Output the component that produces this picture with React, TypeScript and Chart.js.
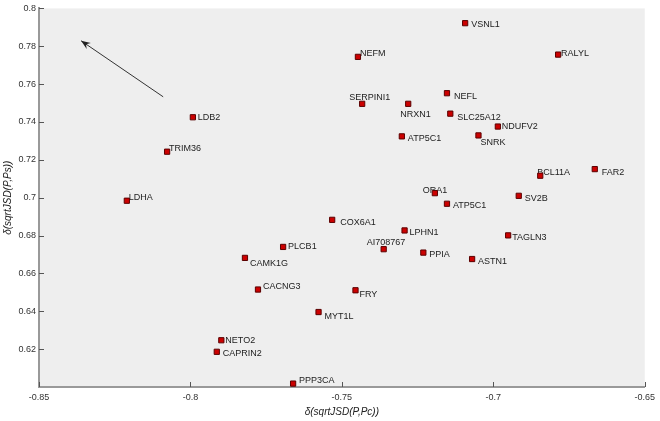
import React, { useEffect, useRef } from 'react';
import { Chart, registerables } from 'chart.js';

Chart.register(...registerables);

const genes = [
  'VSNL1', 'NEFM', 'RALYL', 'NEFL', 'SERPINI1', 'NRXN1', 'SLC25A12', 'NDUFV2',
  'ATP5C1', 'SNRK', 'BCL11A', 'FAR2', 'ORA1', 'SV2B', 'ATP5C1', 'LDB2',
  'TRIM36', 'LDHA', 'COX6A1', 'PLCB1', 'CAMK1G', 'CACNG3', 'MYT1L', 'NETO2',
  'CAPRIN2', 'PPP3CA', 'LPHN1', 'AI708767', 'PPIA', 'ASTN1', 'FRY', 'TAGLN3',
];

const xValues = [
  -0.7093, -0.7447, -0.6786, -0.7153, -0.7433, -0.7281, -0.7142, -0.6985,
  -0.7302, -0.7049, -0.6845, -0.6665, -0.7193, -0.6916, -0.7153, -0.7992,
  -0.8077, -0.821, -0.7532, -0.7694, -0.782, -0.7777, -0.7577, -0.7898,
  -0.7913, -0.7661, -0.7293, -0.7362, -0.7231, -0.707, -0.7455, -0.6951,
];

const yValues = [
  0.7922, 0.7744, 0.7756, 0.7552, 0.7496, 0.7496, 0.7444, 0.7376,
  0.7324, 0.7329, 0.7116, 0.7151, 0.7024, 0.701, 0.6968, 0.7425,
  0.7243, 0.6984, 0.6883, 0.674, 0.6682, 0.6515, 0.6396, 0.6247,
  0.6186, 0.6018, 0.6827, 0.6728, 0.671, 0.6676, 0.6511, 0.6801,
];

const xTicks = [-0.85, -0.8, -0.75, -0.7, -0.65];
const yTicks = [0.62, 0.64, 0.66, 0.68, 0.7, 0.72, 0.74, 0.76, 0.78, 0.8];

const xTitle = 'δ(sqrtJSD(P,Pc))';
const yTitle = 'δ(sqrtJSD(P,Ps))';

const arrowFrom = [-0.809, 0.7533];
const arrowTo = [-0.8361, 0.7829];

// label placement (pixel offsets from marker centre to text start / text middle)
const labelOffsets: [number, number][] = [
  [6, 1], [2, -3], [3, -1], [7, 3], [-13, -6], [-8, 11], [7, 4], [4, 0],
  [6, 2], [2, 7], [-3, -3], [7, 3], [-12, -3], [6, 3], [6, 2], [5, 0],
  [2, -3], [2, -3], [8, 3], [5, 0], [5, 6], [5, -3], [6, 4], [4, 0],
  [6, 2], [6, -3], [5, 2], [-17, -7], [6, 2], [6, 2], [4, 4], [4, 2],
];

const FONT = '"Liberation Sans", Arial, sans-serif';

const decor = {
  id: 'decor',
  beforeDraw(chart: any) {
    const { ctx, chartArea: a } = chart;
    ctx.save();
    ctx.fillStyle = '#eeeeee';
    ctx.fillRect(a.left, a.top, a.right - a.left, a.bottom - a.top);
    ctx.restore();
  },
  beforeDatasetsDraw(chart: any) {
    const { ctx } = chart;
    const xs = chart.scales.x;
    const ys = chart.scales.y;
    ctx.save();
    ctx.font = '9px ' + FONT;
    ctx.fillStyle = '#222';
    ctx.textAlign = 'left';
    ctx.textBaseline = 'middle';
    genes.forEach((g, i) => {
      const px = xs.getPixelForValue(xValues[i]);
      const py = ys.getPixelForValue(yValues[i]);
      const [dx, dy] = labelOffsets[i];
      ctx.fillText(g, px + dx, py + dy);
    });
    const x0 = xs.getPixelForValue(arrowFrom[0]);
    const y0 = ys.getPixelForValue(arrowFrom[1]);
    const x1 = xs.getPixelForValue(arrowTo[0]);
    const y1 = ys.getPixelForValue(arrowTo[1]);
    ctx.strokeStyle = '#333';
    ctx.lineWidth = 1;
    ctx.beginPath();
    ctx.moveTo(x0, y0);
    ctx.lineTo(x1, y1);
    ctx.stroke();
    const ang = Math.atan2(y0 - y1, x0 - x1);
    const L = 10, W = 0.38, N = 6;
    ctx.fillStyle = '#222';
    ctx.beginPath();
    ctx.moveTo(x1, y1);
    ctx.lineTo(x1 + L * Math.cos(ang + W), y1 + L * Math.sin(ang + W));
    ctx.lineTo(x1 + N * Math.cos(ang), y1 + N * Math.sin(ang));
    ctx.lineTo(x1 + L * Math.cos(ang - W), y1 + L * Math.sin(ang - W));
    ctx.closePath();
    ctx.fill();
    ctx.restore();
  },
  afterDraw(chart: any) {
    const { ctx, chartArea: a } = chart;
    const xs = chart.scales.x;
    const ys = chart.scales.y;
    ctx.save();
    ctx.strokeStyle = '#555';
    ctx.lineWidth = 1;
    yTicks.forEach((v) => {
      const py = Math.round(ys.getPixelForValue(v)) + 0.5;
      ctx.beginPath();
      ctx.moveTo(a.left, py);
      ctx.lineTo(a.left + 5, py);
      ctx.stroke();
    });
    xTicks.forEach((v) => {
      const px = Math.round(xs.getPixelForValue(v)) + 0.5;
      ctx.beginPath();
      ctx.moveTo(px, a.bottom);
      ctx.lineTo(px, a.bottom - 5);
      ctx.stroke();
    });
    ctx.fillStyle = '#222';
    ctx.font = 'italic 10px ' + FONT;
    ctx.textAlign = 'center';
    ctx.textBaseline = 'middle';
    ctx.fillText(xTitle, (a.left + a.right) / 2, 412);
    ctx.translate(8, (a.top + a.bottom) / 2);
    ctx.rotate(-Math.PI / 2);
    ctx.fillText(yTitle, 0, 0);
    ctx.restore();
  },
};

export default function App() {
  const ref = useRef<HTMLCanvasElement>(null);
  useEffect(() => {
    document.body.style.margin = '0';
    const canvas = ref.current!;
    const chart = new Chart(canvas, {
      type: 'scatter',
      data: {
        datasets: [
          {
            data: xValues.map((x, i) => ({ x, y: yValues[i] })),
            pointStyle: 'rect',
            pointRadius: 3.7,
            pointHoverRadius: 3.7,
            backgroundColor: '#cc0000',
            borderColor: '#5a0000',
            borderWidth: 1,
          },
        ],
      },
      options: {
        responsive: false,
        animation: false,
        devicePixelRatio: 1,
        layout: { padding: { top: 5, right: 11, left: 0, bottom: 0 } },
        plugins: { legend: { display: false }, tooltip: { enabled: false } },
        scales: {
          x: {
            type: 'linear',
            min: -0.85,
            max: -0.65,
            afterBuildTicks: (s: any) => { s.ticks = xTicks.map((v) => ({ value: v })); },
            afterFit: (s: any) => { s.height = 34; },
            grid: { display: false, drawTicks: false },
            border: { display: true, color: '#999', width: 2 },
            ticks: {
              padding: 5,
              color: '#333',
              font: { size: 9, family: FONT },
              maxRotation: 0,
              callback: (v: any) => String(v),
            },
          },
          y: {
            type: 'linear',
            min: 0.6,
            max: 0.8,
            afterBuildTicks: (s: any) => { s.ticks = yTicks.map((v) => ({ value: v })); },
            afterFit: (s: any) => { s.width = 39; },
            grid: { display: false, drawTicks: false },
            border: { display: true, color: '#999', width: 2 },
            ticks: {
              padding: 3,
              color: '#333',
              font: { size: 9, family: FONT },
              callback: (v: any) => String(v),
            },
          },
        },
      },
      plugins: [decor],
    });
    return () => chart.destroy();
  }, []);
  return (
    <div style={{ position: 'absolute', left: 0, top: 0, width: 660, height: 421 }}>
      <canvas ref={ref} width={660} height={421} style={{ display: 'block' }} />
    </div>
  );
}
